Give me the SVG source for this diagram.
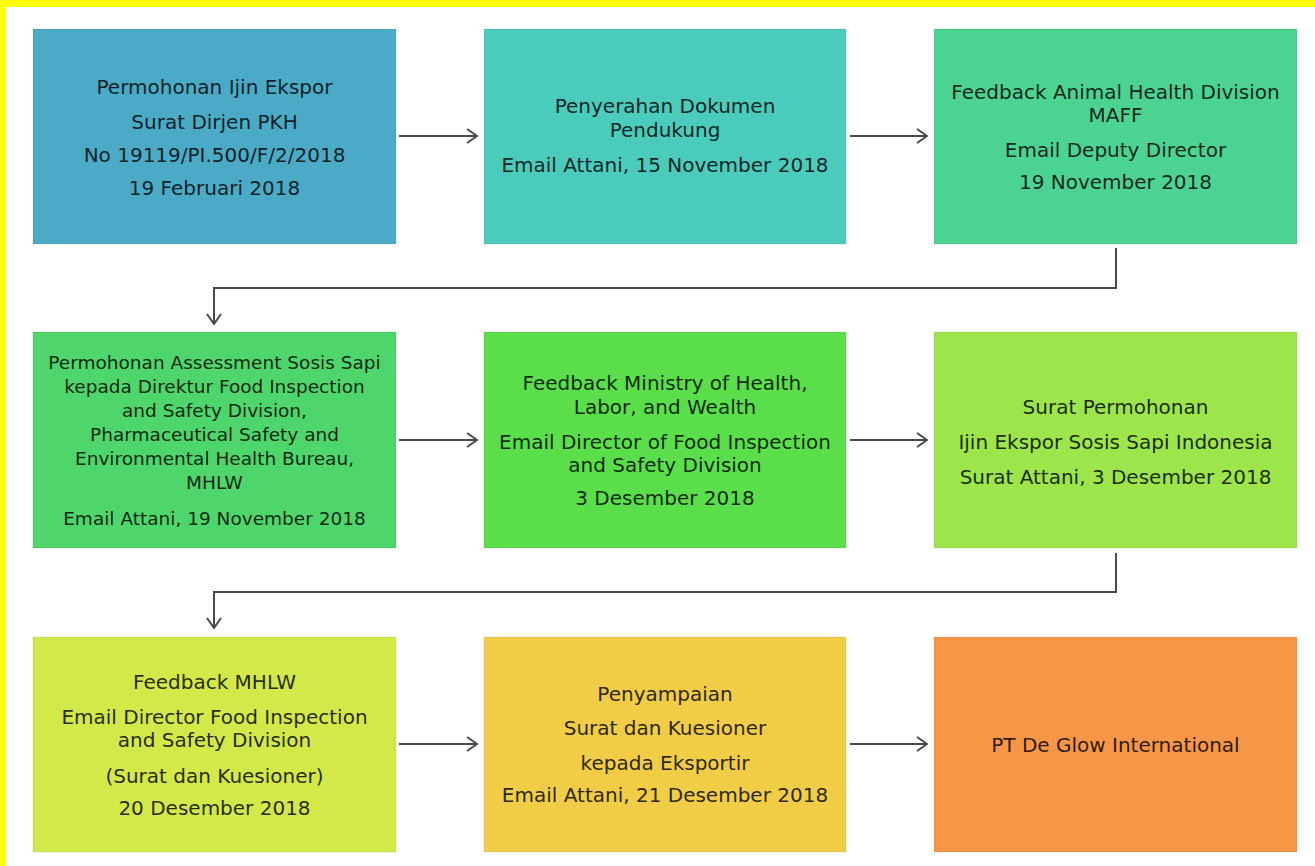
<svg xmlns="http://www.w3.org/2000/svg" width="1315" height="866" viewBox="0 0 1315 866">
<style>
.box{stroke:#000;stroke-opacity:0.04;stroke-width:2}
.t{font-family:"DejaVu Sans",Verdana,sans-serif;font-size:20px;fill:#000;fill-opacity:0.84;text-anchor:middle}
.s{font-size:18.5px}
.c{fill:none;stroke:#4a4a4a;stroke-width:2}
</style>
<defs>
<marker id="arr" viewBox="0 0 12 16" refX="11" refY="8" markerWidth="12" markerHeight="16" markerUnits="userSpaceOnUse" orient="auto">
<path d="M1,1 L11,8 L1,15" fill="none" stroke="#4a4a4a" stroke-width="2"/>
</marker>
</defs>
<rect x="0" y="0" width="1315" height="866" fill="#ffffff"/>
<rect x="0" y="0" width="1315" height="7" fill="#ffff00"/>
<rect x="0" y="0" width="6" height="866" fill="#ffff00"/>

<g id="connectors">
<line class="c" x1="399" y1="136" x2="477" y2="136" marker-end="url(#arr)"/>
<line class="c" x1="850" y1="136" x2="927" y2="136" marker-end="url(#arr)"/>
<polyline class="c" points="1116,248 1116,288 214,288 214,324" marker-end="url(#arr)"/>
<line class="c" x1="399" y1="440" x2="477" y2="440" marker-end="url(#arr)"/>
<line class="c" x1="850" y1="440" x2="927" y2="440" marker-end="url(#arr)"/>
<polyline class="c" points="1116,553 1116,592 214,592 214,628" marker-end="url(#arr)"/>
<line class="c" x1="399" y1="744" x2="477" y2="744" marker-end="url(#arr)"/>
<line class="c" x1="850" y1="744" x2="927" y2="744" marker-end="url(#arr)"/>
</g>

<g id="n1">
<rect class="box" x="33" y="29" width="363" height="215" fill="#4babc7"/>
<text class="t" x="214.5" y="94">Permohonan Ijin Ekspor</text>
<text class="t" x="214.5" y="129">Surat Dirjen PKH</text>
<text class="t" x="214.5" y="162">No 19119/PI.500/F/2/2018</text>
<text class="t" x="214.5" y="195">19 Februari 2018</text>
</g>

<g id="n2">
<rect class="box" x="484" y="29" width="362" height="215" fill="#4bcbbc"/>
<text class="t" x="665" y="113">Penyerahan Dokumen</text>
<text class="t" x="665" y="137">Pendukung</text>
<text class="t" x="665" y="172">Email Attani, 15 November 2018</text>
</g>

<g id="n3">
<rect class="box" x="934" y="29" width="363" height="215" fill="#4cd392"/>
<text class="t" x="1115.5" y="99">Feedback Animal Health Division</text>
<text class="t" x="1115.5" y="122">MAFF</text>
<text class="t" x="1115.5" y="157">Email Deputy Director</text>
<text class="t" x="1115.5" y="189">19 November 2018</text>
</g>

<g id="n4">
<rect class="box" x="33" y="332" width="363" height="216" fill="#4ed56c"/>
<text class="t s" x="214.5" y="369">Permohonan Assessment Sosis Sapi</text>
<text class="t s" x="214.5" y="393">kepada Direktur Food Inspection</text>
<text class="t s" x="214.5" y="417">and Safety Division,</text>
<text class="t s" x="214.5" y="441">Pharmaceutical Safety and</text>
<text class="t s" x="214.5" y="465">Environmental Health Bureau,</text>
<text class="t s" x="214.5" y="489">MHLW</text>
<text class="t s" x="214.5" y="525">Email Attani, 19 November 2018</text>
</g>

<g id="n5">
<rect class="box" x="484" y="332" width="362" height="216" fill="#5adf4b"/>
<text class="t" x="665" y="390">Feedback Ministry of Health,</text>
<text class="t" x="665" y="414">Labor, and Wealth</text>
<text class="t" x="665" y="449">Email Director of Food Inspection</text>
<text class="t" x="665" y="472">and Safety Division</text>
<text class="t" x="665" y="505">3 Desember 2018</text>
</g>

<g id="n6">
<rect class="box" x="934" y="332" width="363" height="216" fill="#9ce54a"/>
<text class="t" x="1115.5" y="414">Surat Permohonan</text>
<text class="t" x="1115.5" y="449">Ijin Ekspor Sosis Sapi Indonesia</text>
<text class="t" x="1115.5" y="484">Surat Attani, 3 Desember 2018</text>
</g>

<g id="n7">
<rect class="box" x="33" y="637" width="363" height="215" fill="#d3e849"/>
<text class="t" x="214.5" y="689">Feedback MHLW</text>
<text class="t" x="214.5" y="724">Email Director Food Inspection</text>
<text class="t" x="214.5" y="747">and Safety Division</text>
<text class="t" x="214.5" y="783">(Surat dan Kuesioner)</text>
<text class="t" x="214.5" y="815">20 Desember 2018</text>
</g>

<g id="n8">
<rect class="box" x="484" y="637" width="362" height="215" fill="#f0cc47"/>
<text class="t" x="665" y="701">Penyampaian</text>
<text class="t" x="665" y="735">Surat dan Kuesioner</text>
<text class="t" x="665" y="770">kepada Eksportir</text>
<text class="t" x="665" y="802">Email Attani, 21 Desember 2018</text>
</g>

<g id="n9">
<rect class="box" x="934" y="637" width="363" height="215" fill="#f69646"/>
<text class="t" x="1115.5" y="752">PT De Glow International</text>
</g>
</svg>
